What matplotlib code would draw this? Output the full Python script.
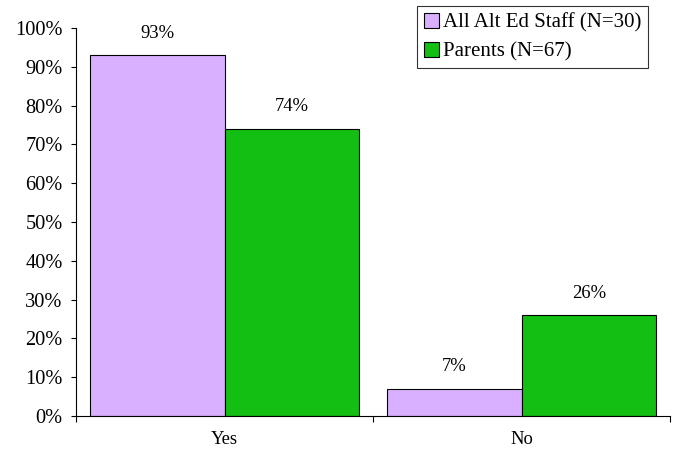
import matplotlib
matplotlib.use("Agg")
import matplotlib.pyplot as plt
import numpy as np

categories = ["Yes", "No"]
series_names = ["All Alt Ed Staff (N=30)", "Parents (N=67)"]
staff = [93, 7]
parents = [74, 26]
colors = ["#D9B0FF", "#13BF13"]

plt.rcParams['font.family'] = ['Liberation Serif', 'DejaVu Serif']

fig = plt.figure(figsize=(6.76, 4.51), dpi=100)
ax = fig.add_axes([76/676, 35/451, 594/676, 388/451])

x = np.arange(len(categories))
w = 0.4545
b1 = ax.bar(x - w/2, staff, w, color=colors[0], edgecolor="black", linewidth=0.8, label=series_names[0])
b2 = ax.bar(x + w/2, parents, w, color=colors[1], edgecolor="black", linewidth=0.8, label=series_names[1])

for bars, vals in ((b1, staff), (b2, parents)):
    for r, v in zip(bars, vals):
        ax.text(r.get_x() + r.get_width()/2, v + 5.7, f"{v}%", ha="center", va="center", fontsize=13.4)

ax.set_xlim(-0.5, 1.5)
ax.set_ylim(0, 100)
ax.set_yticks(np.arange(0, 101, 10))
ax.set_yticklabels([f"{t}%" for t in range(0, 101, 10)], fontsize=14.7)
ax.set_xticks([-0.5, 0.5, 1.5])
ax.set_xticklabels([])
ax.set_xticks(x, minor=True)
ax.set_xticklabels(categories, minor=True, fontsize=13.4)
ax.tick_params(axis="x", which="minor", length=0, pad=10.5)
ax.tick_params(axis="x", which="major", length=4, direction="out")
ax.tick_params(axis="y", length=3.5, direction="out", pad=6)
for s in ("top", "right"):
    ax.spines[s].set_visible(False)

leg = fig.legend(loc="upper left", bbox_to_anchor=(417/676, 1 - 6/451), fontsize=15,
                 frameon=True, fancybox=False, edgecolor="black", handlelength=0.72,
                 handleheight=0.72, handletextpad=0.2, borderpad=0.32, labelspacing=0.45,
                 borderaxespad=0)
leg.get_frame().set_linewidth(0.8)

fig.savefig("out.png", dpi=100)
